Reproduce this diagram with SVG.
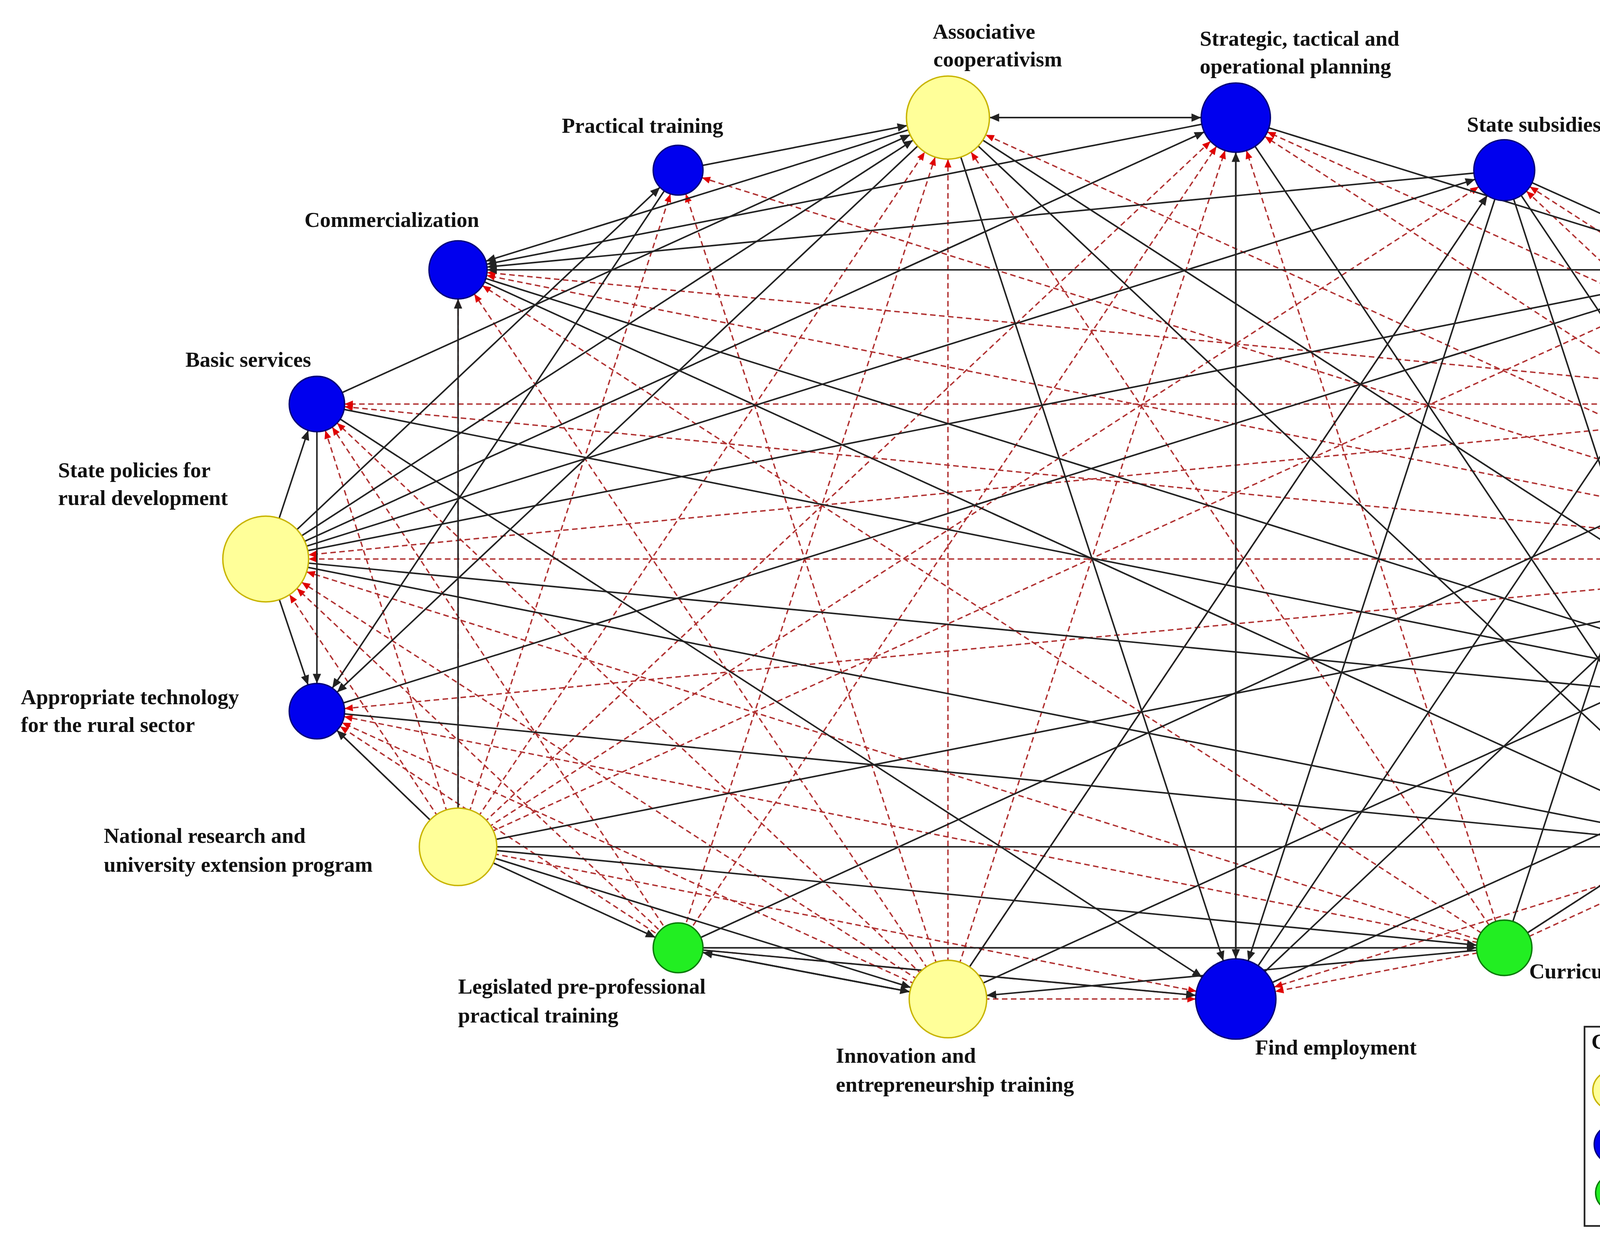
<svg xmlns="http://www.w3.org/2000/svg" width="5555" height="3203" viewBox="0 0 5555 3203">
<style>
.b{stroke:#222;stroke-width:1.1;fill:none}
.r{stroke:#b03030;stroke-width:1;stroke-dasharray:4,2.5;fill:none}
.lb{font-family:"Liberation Serif",serif;font-weight:bold;font-size:15.5px;fill:#111}
.lg{font-family:"Liberation Serif",serif;font-size:15.5px;fill:#111}
.y{fill:#ffff99;stroke:#c8b400;stroke-width:1}
.u{fill:#0000ee;stroke:#00007a;stroke-width:1}
.g{fill:#22ee22;stroke:#0a7a0a;stroke-width:1}
</style>
<defs>
<marker id="b13" markerUnits="userSpaceOnUse" markerWidth="60" markerHeight="10" refX="20" refY="3" orient="auto" overflow="visible"><path d="M0,0L7,3L0,6z" fill="#222"/></marker>
<marker id="b18" markerUnits="userSpaceOnUse" markerWidth="60" markerHeight="10" refX="25" refY="3" orient="auto" overflow="visible"><path d="M0,0L7,3L0,6z" fill="#222"/></marker>
<marker id="b20" markerUnits="userSpaceOnUse" markerWidth="60" markerHeight="10" refX="27" refY="3" orient="auto" overflow="visible"><path d="M0,0L7,3L0,6z" fill="#222"/></marker>
<marker id="b21" markerUnits="userSpaceOnUse" markerWidth="60" markerHeight="10" refX="28" refY="3" orient="auto" overflow="visible"><path d="M0,0L7,3L0,6z" fill="#222"/></marker>
<marker id="b22" markerUnits="userSpaceOnUse" markerWidth="60" markerHeight="10" refX="29" refY="3" orient="auto" overflow="visible"><path d="M0,0L7,3L0,6z" fill="#222"/></marker>
<marker id="b23" markerUnits="userSpaceOnUse" markerWidth="60" markerHeight="10" refX="30" refY="3" orient="auto" overflow="visible"><path d="M0,0L7,3L0,6z" fill="#222"/></marker>
<marker id="b24" markerUnits="userSpaceOnUse" markerWidth="60" markerHeight="10" refX="31" refY="3" orient="auto" overflow="visible"><path d="M0,0L7,3L0,6z" fill="#222"/></marker>
<marker id="b25" markerUnits="userSpaceOnUse" markerWidth="60" markerHeight="10" refX="32" refY="3" orient="auto" overflow="visible"><path d="M0,0L7,3L0,6z" fill="#222"/></marker>
<marker id="b28" markerUnits="userSpaceOnUse" markerWidth="60" markerHeight="10" refX="35" refY="3" orient="auto" overflow="visible"><path d="M0,0L7,3L0,6z" fill="#222"/></marker>
<marker id="b29" markerUnits="userSpaceOnUse" markerWidth="60" markerHeight="10" refX="36" refY="3" orient="auto" overflow="visible"><path d="M0,0L7,3L0,6z" fill="#222"/></marker>
<marker id="b30" markerUnits="userSpaceOnUse" markerWidth="60" markerHeight="10" refX="37" refY="3" orient="auto" overflow="visible"><path d="M0,0L7,3L0,6z" fill="#222"/></marker>
<marker id="b31" markerUnits="userSpaceOnUse" markerWidth="60" markerHeight="10" refX="38" refY="3" orient="auto" overflow="visible"><path d="M0,0L7,3L0,6z" fill="#222"/></marker>
<marker id="r13" markerUnits="userSpaceOnUse" markerWidth="60" markerHeight="10" refX="19" refY="2.5" orient="auto" overflow="visible"><path d="M0,0L6,2.5L0,5z" fill="#e00000"/></marker>
<marker id="r18" markerUnits="userSpaceOnUse" markerWidth="60" markerHeight="10" refX="24" refY="2.5" orient="auto" overflow="visible"><path d="M0,0L6,2.5L0,5z" fill="#e00000"/></marker>
<marker id="r20" markerUnits="userSpaceOnUse" markerWidth="60" markerHeight="10" refX="26" refY="2.5" orient="auto" overflow="visible"><path d="M0,0L6,2.5L0,5z" fill="#e00000"/></marker>
<marker id="r21" markerUnits="userSpaceOnUse" markerWidth="60" markerHeight="10" refX="27" refY="2.5" orient="auto" overflow="visible"><path d="M0,0L6,2.5L0,5z" fill="#e00000"/></marker>
<marker id="r22" markerUnits="userSpaceOnUse" markerWidth="60" markerHeight="10" refX="28" refY="2.5" orient="auto" overflow="visible"><path d="M0,0L6,2.5L0,5z" fill="#e00000"/></marker>
<marker id="r23" markerUnits="userSpaceOnUse" markerWidth="60" markerHeight="10" refX="29" refY="2.5" orient="auto" overflow="visible"><path d="M0,0L6,2.5L0,5z" fill="#e00000"/></marker>
<marker id="r24" markerUnits="userSpaceOnUse" markerWidth="60" markerHeight="10" refX="30" refY="2.5" orient="auto" overflow="visible"><path d="M0,0L6,2.5L0,5z" fill="#e00000"/></marker>
<marker id="r25" markerUnits="userSpaceOnUse" markerWidth="60" markerHeight="10" refX="31" refY="2.5" orient="auto" overflow="visible"><path d="M0,0L6,2.5L0,5z" fill="#e00000"/></marker>
<marker id="r28" markerUnits="userSpaceOnUse" markerWidth="60" markerHeight="10" refX="34" refY="2.5" orient="auto" overflow="visible"><path d="M0,0L6,2.5L0,5z" fill="#e00000"/></marker>
<marker id="r29" markerUnits="userSpaceOnUse" markerWidth="60" markerHeight="10" refX="35" refY="2.5" orient="auto" overflow="visible"><path d="M0,0L6,2.5L0,5z" fill="#e00000"/></marker>
<marker id="r30" markerUnits="userSpaceOnUse" markerWidth="60" markerHeight="10" refX="36" refY="2.5" orient="auto" overflow="visible"><path d="M0,0L6,2.5L0,5z" fill="#e00000"/></marker>
<marker id="r31" markerUnits="userSpaceOnUse" markerWidth="60" markerHeight="10" refX="37" refY="2.5" orient="auto" overflow="visible"><path d="M0,0L6,2.5L0,5z" fill="#e00000"/></marker>
</defs>
<rect width="5555" height="3203" fill="#fff"/>
<g transform="scale(3.5427)">
<g id="connectors">
<!-- red dashed -->
<g class="r">
<path d="M1385,404L229,292" marker-end="url(#r20)"/>
<path d="M1385,404L192,404" marker-end="url(#r31)"/>
<path d="M1385,404L229,514" marker-end="url(#r20)"/>
<path d="M1385,404L331,195" marker-end="url(#r21)"/>
<path d="M1385,404L685,85" marker-end="url(#r30)"/>
<path d="M1385,404L893,85" marker-end="url(#r25)"/>
<path d="M1385,404L1087,123" marker-end="url(#r22)"/>
<path d="M1385,404L1247,195" marker-end="url(#r23)"/>
<path d="M1385,404L1350,515" marker-end="url(#r24)"/>
<path d="M1385,404L1246,612" marker-end="url(#r25)"/>
<path d="M1385,404L490,123" marker-end="url(#r18)"/>
<path d="M1349,292L229,292" marker-end="url(#r20)"/>
<path d="M1349,292L331,195" marker-end="url(#r21)"/>
<path d="M1349,292L893,85" marker-end="url(#r25)"/>
<path d="M1349,292L1087,123" marker-end="url(#r22)"/>
<path d="M1349,292L1247,195" marker-end="url(#r23)"/>
<path d="M1349,292L192,404" marker-end="url(#r31)"/>
<path d="M331,612L229,292" marker-end="url(#r20)"/>
<path d="M331,612L192,404" marker-end="url(#r31)"/>
<path d="M331,612L229,514" marker-end="url(#r20)"/>
<path d="M331,612L490,123" marker-end="url(#r18)"/>
<path d="M331,612L685,85" marker-end="url(#r30)"/>
<path d="M331,612L893,85" marker-end="url(#r25)"/>
<path d="M331,612L1087,123" marker-end="url(#r22)"/>
<path d="M331,612L1247,195" marker-end="url(#r23)"/>
<path d="M331,612L893,722" marker-end="url(#r29)"/>
<path d="M331,612L331,195" marker-end="url(#r21)"/>
<path d="M685,722L685,85" marker-end="url(#r30)"/>
<path d="M685,722L490,123" marker-end="url(#r18)"/>
<path d="M685,722L893,85" marker-end="url(#r25)"/>
<path d="M685,722L1087,123" marker-end="url(#r22)"/>
<path d="M685,722L331,195" marker-end="url(#r21)"/>
<path d="M685,722L229,292" marker-end="url(#r20)"/>
<path d="M685,722L229,514" marker-end="url(#r20)"/>
<path d="M685,722L192,404" marker-end="url(#r31)"/>
<path d="M685,722L893,722" marker-end="url(#r29)"/>
<path d="M490,685L685,85" marker-end="url(#r30)"/>
<path d="M490,685L893,85" marker-end="url(#r25)"/>
<path d="M490,685L229,292" marker-end="url(#r20)"/>
<path d="M490,685L192,404" marker-end="url(#r31)"/>
<path d="M490,685L229,514" marker-end="url(#r20)"/>
<path d="M490,685L893,722" marker-end="url(#r29)"/>
<path d="M1087,685L685,85" marker-end="url(#r30)"/>
<path d="M1087,685L893,85" marker-end="url(#r25)"/>
<path d="M1087,685L893,722" marker-end="url(#r29)"/>
<path d="M1087,685L1246,612" marker-end="url(#r25)"/>
<path d="M1087,685L1350,515" marker-end="url(#r24)"/>
<path d="M1087,685L192,404" marker-end="url(#r31)"/>
<path d="M1087,685L229,514" marker-end="url(#r20)"/>
<path d="M1087,685L331,195" marker-end="url(#r21)"/>
<path d="M1246,612L893,722" marker-end="url(#r29)"/>
<path d="M1350,515L1246,612" marker-end="url(#r25)"/>
</g>
<!-- black solid -->
<g class="b">
<path d="M490,123L685,85" marker-end="url(#b30)"/>
<path d="M685,85L331,195" marker-end="url(#b21)"/>
<path d="M685,85L893,85" marker-end="url(#b25)"/>
<path d="M893,85L685,85" marker-end="url(#b30)"/>
<path d="M893,85L331,195" marker-end="url(#b21)"/>
<path d="M1087,123L331,195" marker-end="url(#b21)"/>
<path d="M1247,195L331,195" marker-end="url(#b21)"/>
<path d="M1087,123L1247,195" marker-end="url(#b23)"/>
<path d="M893,85L1247,195" marker-end="url(#b23)"/>
<path d="M893,85L893,722" marker-end="url(#b29)"/>
<path d="M893,722L893,85" marker-end="url(#b25)"/>
<path d="M685,85L893,722" marker-end="url(#b29)"/>
<path d="M685,85L1246,612" marker-end="url(#b25)"/>
<path d="M685,85L1350,515" marker-end="url(#b24)"/>
<path d="M893,85L1246,612" marker-end="url(#b25)"/>
<path d="M1087,123L893,722" marker-end="url(#b29)"/>
<path d="M1087,123L1350,515" marker-end="url(#b24)"/>
<path d="M1087,123L1246,612" marker-end="url(#b25)"/>
<path d="M1246,612L1247,195" marker-end="url(#b23)"/>
<path d="M1350,515L1247,195" marker-end="url(#b23)"/>
<path d="M1385,404L1349,292" marker-end="url(#b13)"/>
<path d="M1246,612L1350,515" marker-end="url(#b24)"/>
<path d="M1350,515L1246,612" marker-end="url(#b25)"/>
<path d="M1087,685L1350,515" marker-end="url(#b24)"/>
<path d="M893,722L1247,195" marker-end="url(#b23)"/>
<path d="M893,722L1349,292" marker-end="url(#b13)"/>
<path d="M490,685L1349,292" marker-end="url(#b13)"/>
<path d="M490,685L685,722" marker-end="url(#b28)"/>
<path d="M685,722L490,685" marker-end="url(#b18)"/>
<path d="M685,722L1385,404" marker-end="url(#b29)"/>
<path d="M685,722L1087,123" marker-end="url(#b22)"/>
<path d="M893,722L1350,515" marker-end="url(#b24)"/>
<path d="M1087,685L685,722" marker-end="url(#b28)"/>
<path d="M490,685L1087,685" marker-end="url(#b20)"/>
<path d="M331,612L490,685" marker-end="url(#b18)"/>
<path d="M331,612L685,722" marker-end="url(#b28)"/>
<path d="M331,612L1087,685" marker-end="url(#b20)"/>
<path d="M331,612L1385,404" marker-end="url(#b29)"/>
<path d="M331,612L1246,612" marker-end="url(#b25)"/>
<path d="M331,612L229,514" marker-end="url(#b20)"/>
<path d="M331,612L331,195" marker-end="url(#b21)"/>
<path d="M192,404L229,292" marker-end="url(#b20)"/>
<path d="M192,404L229,514" marker-end="url(#b20)"/>
<path d="M192,404L490,123" marker-end="url(#b18)"/>
<path d="M192,404L685,85" marker-end="url(#b30)"/>
<path d="M192,404L893,85" marker-end="url(#b25)"/>
<path d="M192,404L1087,123" marker-end="url(#b22)"/>
<path d="M192,404L1247,195" marker-end="url(#b23)"/>
<path d="M192,404L1350,515" marker-end="url(#b24)"/>
<path d="M192,404L1246,612" marker-end="url(#b25)"/>
<path d="M229,292L685,85" marker-end="url(#b30)"/>
<path d="M229,292L229,514" marker-end="url(#b20)"/>
<path d="M229,292L893,722" marker-end="url(#b29)"/>
<path d="M229,292L1350,515" marker-end="url(#b24)"/>
<path d="M331,195L1350,515" marker-end="url(#b24)"/>
<path d="M331,195L1246,612" marker-end="url(#b25)"/>
<path d="M490,123L229,514" marker-end="url(#b20)"/>
<path d="M229,514L1246,612" marker-end="url(#b25)"/>
<path d="M229,514L1247,195" marker-end="url(#b23)"/>
<path d="M685,85L229,514" marker-end="url(#b20)"/>
<path d="M1087,685L1247,195" marker-end="url(#b23)"/>
<path d="M490,685L893,722" marker-end="url(#b29)"/>
</g>
</g>
<g id="n-ac"><circle class="y" cx="685" cy="85" r="30"/><text class="lb" x="711" y="28" text-anchor="middle">Associative</text><text class="lb" x="721" y="48" text-anchor="middle">cooperativism</text></g>
<g id="n-sp"><circle class="u" cx="893" cy="85" r="25"/><text class="lb" x="867" y="33">Strategic, tactical and</text><text class="lb" x="867" y="53">operational planning</text></g>
<g id="n-ss"><circle class="u" cx="1087" cy="123" r="22"/><text class="lb" x="1060" y="95">State subsidies</text></g>
<g id="n-bcd"><circle class="u" cx="1247" cy="195" r="23"/><text class="lb" x="1209" y="143">Business and commercial</text><text class="lb" x="1209" y="163">development</text></g>
<g id="n-div"><circle class="g" cx="1349" cy="292" r="13"/><text class="lb" x="1335" y="262">Diversification of activities</text></g>
<g id="n-qat"><circle class="y" cx="1385" cy="404" r="29"/><text class="lb" x="1419" y="405">Quality academic</text><text class="lb" x="1419" y="425">training</text></g>
<g id="n-rf"><circle class="u" cx="1350" cy="515" r="24"/><text class="lb" x="1379" y="517">Risk in the</text><text class="lb" x="1379" y="537">farming sector</text></g>
<g id="n-cr"><circle class="u" cx="1246" cy="612" r="25"/><text class="lb" x="1270" y="629">Credit</text></g>
<g id="n-cu"><circle class="g" cx="1087" cy="685" r="20"/><text class="lb" x="1105" y="707">Curriculum redesign</text></g>
<g id="n-fe"><circle class="u" cx="893" cy="722" r="29"/><text class="lb" x="907" y="762">Find employment</text></g>
<g id="n-in"><circle class="y" cx="685" cy="722" r="28"/><text class="lb" x="604" y="768">Innovation and</text><text class="lb" x="604" y="789">entrepreneurship training</text></g>
<g id="n-lg"><circle class="g" cx="490" cy="685" r="18"/><text class="lb" x="331" y="718">Legislated pre-professional</text><text class="lb" x="331" y="739">practical training</text></g>
<g id="n-nr"><circle class="y" cx="331" cy="612" r="28"/><text class="lb" x="75" y="609">National research and</text><text class="lb" x="75" y="630">university extension program</text></g>
<g id="n-at"><circle class="u" cx="229" cy="514" r="20"/><text class="lb" x="15" y="509">Appropriate technology</text><text class="lb" x="15" y="529">for the rural sector</text></g>
<g id="n-spl"><circle class="y" cx="192" cy="404" r="31"/><text class="lb" x="42" y="345">State policies for</text><text class="lb" x="42" y="365">rural development</text></g>
<g id="n-bs"><circle class="u" cx="229" cy="292" r="20"/><text class="lb" x="134" y="265">Basic services</text></g>
<g id="n-cm"><circle class="u" cx="331" cy="195" r="21"/><text class="lb" x="220" y="164">Commercialization</text></g>
<g id="n-pt"><circle class="u" cx="490" cy="123" r="18"/><text class="lb" x="406" y="96">Practical training</text></g>
<circle cx="1486" cy="552" r="2.2" fill="#7a2a9a"/>
<g id="legend">
<rect x="1145" y="742" width="408" height="144" fill="#fff" stroke="#222" stroke-width="1.2"/>
<text class="lb" x="1150" y="758">Circles color:</text>
<text class="lb" x="1347" y="758">System lines:</text>
<circle class="y" cx="1165" cy="788" r="14"/><text class="lg" x="1189" y="794">Themes</text>
<circle class="u" cx="1166" cy="827" r="14"/><text class="lg" x="1193" y="834">Problems</text>
<circle class="g" cx="1166" cy="862" r="13"/><text class="lg" x="1195" y="869">Strategies</text>
<line x1="1345" y1="791" x2="1410" y2="791" stroke="#111" stroke-width="1.5"/>
<line x1="1345" y1="831" x2="1410" y2="831" stroke="#e00000" stroke-width="1.2" stroke-dasharray="4,2"/>
</g>
</g>
</svg>
